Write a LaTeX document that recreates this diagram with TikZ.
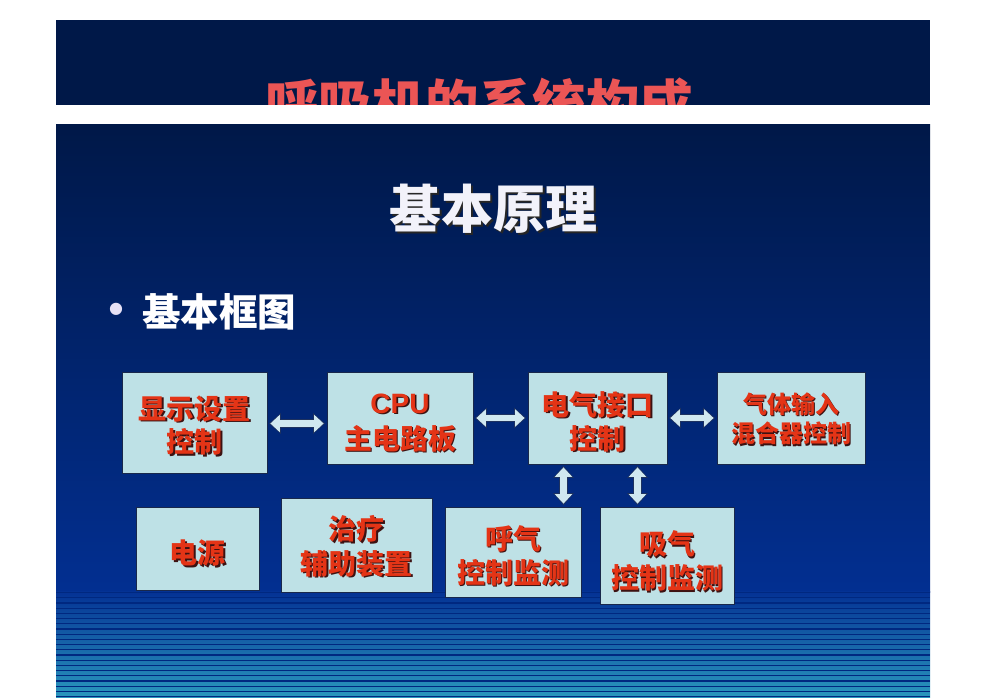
\documentclass[tikz,border=0pt]{standalone}
\usepackage{fontspec}
\setmainfont{Liberation Sans}
\newfontfamily\cjk{Noto Sans CJK SC}
\newfontfamily\dejavu{DejaVu Sans}
\usetikzlibrary{arrows.meta,calc}
\definecolor{bandnavy}{RGB}{0,24,72}
\definecolor{slidetop}{RGB}{0,24,72}
\definecolor{slidemid}{RGB}{2,47,145}
\definecolor{stripetop}{RGB}{4,50,148}
\definecolor{stripebot}{RGB}{42,152,190}
\definecolor{stripeline}{RGB}{0,40,128}
\definecolor{boxfill}{RGB}{190,225,230}
\definecolor{boxedge}{RGB}{25,40,75}
\definecolor{txtred}{RGB}{228,52,22}
\definecolor{txtshadow}{RGB}{60,18,18}
\definecolor{titlered}{RGB}{235,85,85}
\definecolor{arrowfill}{RGB}{208,232,240}
\definecolor{arrowedge}{RGB}{30,50,95}
\definecolor{titlewhite}{RGB}{242,242,250}
\definecolor{bulletcol}{RGB}{230,225,245}
\newcommand\shtxt[1]{\leavevmode\rlap{\kern1.6pt\raisebox{-1.6pt}{\color{txtshadow}#1}}#1}
\newcommand\bigshtxt[1]{\leavevmode\rlap{\kern2.4pt\raisebox{-2.4pt}{\color{black!85}#1}}#1}
% #1 downward shift, #2 line pitch, #3 lines
\newcommand\boxtxt[3]{\raisebox{-#1}[\height][\depth]{\fontsize{\csname f@size\endcsname}{#2}\selectfont\def\arraystretch{1}\begin{tabular}{@{}c@{}}#3\end{tabular}}}
\begin{document}
\begin{tikzpicture}[x=1pt,y=-1pt,
  box/.style={draw=boxedge, line width=0.8pt, fill=boxfill, inner sep=0pt,
    text=txtred, align=center, font=\cjk\bfseries\fontsize{28}{32}\selectfont},
  smallbox/.style={box, font=\cjk\bfseries\fontsize{24}{29}\selectfont},
  blockarrow/.style={
    preaction={draw=arrowedge, line width=8.5pt, shorten >=1.5pt, shorten <=1.5pt,
      {Triangle[width=20pt,length=12pt]}-{Triangle[width=20pt,length=12pt]}},
    draw=arrowfill, line width=6.5pt, shorten >=3pt, shorten <=3pt,
    {Triangle[width=17pt,length=9.5pt]}-{Triangle[width=17pt,length=9.5pt]}}
]
\useasboundingbox (0,0) rectangle (987,698);
\fill[white] (0,0) rectangle (987,698);
% top band with clipped title
\fill[bandnavy] (56,20) rectangle (930,105);
\begin{scope}
  \clip (56,20) rectangle (930,105);
  \node[text=titlered, font=\cjk\bfseries\fontsize{53.5}{60}\selectfont] (bandtitle) at (479,104) {呼吸机的系统构成};
\end{scope}
% main slide background
\shade[top color=slidetop, bottom color=slidemid] (56,125) rectangle (930,592);
\shade[top color=stripetop, bottom color=stripebot] (56,591.5) rectangle (930,698);
\foreach \i in {0,...,20}{
  \draw[stripeline, line width=1.2pt] (56,{592.5+\i*5.2}) -- (930,{592.5+\i*5.2});
}
% titles
\node[text=titlewhite, font=\cjk\bfseries\fontsize{52}{60}\selectfont] (title) at (493,210) {\bigshtxt{基本原理}};
\node[text=bulletcol, font=\dejavu\fontsize{16}{16}\selectfont, inner sep=0pt] (bullet) at (116,309.5) {●};
\node[text=white, anchor=west, inner sep=0pt, font=\cjk\bfseries\fontsize{38.5}{40}\selectfont] (sub) at (142,312) {基本框图};
% boxes
\node[box, minimum width=145pt, minimum height=101pt] (b1) at (194.5,422.5) {\boxtxt{6pt}{30pt}{\shtxt{显示设置}\\\shtxt{控制}}};
\node[box, minimum width=146pt, minimum height=92pt] (b2) at (400,418) {\boxtxt{6pt}{36pt}{{\fontspec{Liberation Sans}\bfseries\shtxt{CPU}}\\\shtxt{主电路板}}};
\node[box, minimum width=139pt, minimum height=92pt] (b3) at (597.5,418) {\boxtxt{7pt}{33pt}{\shtxt{电气接口}\\\shtxt{控制}}};
\node[smallbox, minimum width=148pt, minimum height=92pt] (b4) at (791,418) {\boxtxt{4pt}{29pt}{\shtxt{气体输入}\\\shtxt{混合器控制}}};
\node[box, minimum width=123pt, minimum height=83pt] (b5) at (197.5,548.5) {\boxtxt{8pt}{32pt}{\shtxt{电源}}};
\node[box, minimum width=151pt, minimum height=94pt] (b6) at (356.5,545) {\boxtxt{5pt}{34pt}{\shtxt{治疗}\\\shtxt{辅助装置}}};
\node[box, minimum width=136pt, minimum height=90pt] (b7) at (513,552) {\boxtxt{7pt}{33pt}{\shtxt{呼气}\\\shtxt{控制监测}}};
\node[box, minimum width=134pt, minimum height=97pt] (b8) at (667,555.5) {\boxtxt{9pt}{33pt}{\shtxt{吸气}\\\shtxt{控制监测}}};
% connectors
\draw[blockarrow] ([yshift=-1pt]b1.east) -- ([yshift=-1pt]b1.east -| b2.west);
\draw[blockarrow] (b2.east) -- (b3.west);
\draw[blockarrow] (b3.east) -- (b4.west);
\draw[blockarrow] ([xshift=-34pt]b3.south) -- ([xshift=-34pt]b3.south |- b7.north);
\draw[blockarrow] ([xshift=40pt]b3.south) -- ([xshift=40pt]b3.south |- b8.north);
\end{tikzpicture}
\end{document}
